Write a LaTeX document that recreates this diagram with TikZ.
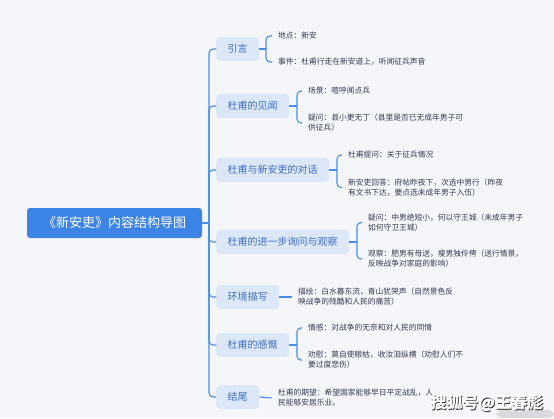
\documentclass[tikz,border=0pt]{standalone}
\usepackage{fontspec}
\setmainfont{Noto Sans CJK SC}
\usetikzlibrary{calc}
\definecolor{bg}{HTML}{F5F6FA}
\definecolor{rootc}{HTML}{3C84E6}
\definecolor{brfill}{HTML}{DCE7F8}
\definecolor{brtext}{HTML}{3F6EC2}
\definecolor{linec}{HTML}{4A8DE6}
\definecolor{leaft}{HTML}{353A50}
\definecolor{wmshadow}{HTML}{303030}
\definecolor{blob}{HTML}{D9D9DE}
\begin{document}
\begin{tikzpicture}[x=1pt,y=-1pt,
 conn/.style={draw=linec,line width=1.1pt,rounded corners=4pt},
 rootbox/.style={fill=rootc,text=white,rounded corners=3pt,minimum width=175pt,minimum height=30pt,font=\fontsize{13}{15}\selectfont,inner sep=0pt},
 branch/.style={fill=brfill,text=brtext,rounded corners=4pt,minimum height=24pt,inner xsep=11.5pt,inner ysep=0pt,font=\fontsize{10}{12}\selectfont,anchor=west},
 leaf/.style={text=leaft,font=\fontsize{7.75}{10}\selectfont,align=left,inner xsep=0pt,inner ysep=0pt,outer xsep=6pt,outer ysep=0pt,anchor=west},
 wmark/.style={font=\fontsize{16}{18}\selectfont\bfseries,inner sep=0pt}]
\useasboundingbox (0,0) rectangle (554,418);
\fill[bg] (0,0) rectangle (554,418);

\node[rootbox] (root) at (114.5,223) {《新安吏》内容结构导图};
\coordinate (trunk) at (209,223);

\node[branch] (b1) at (216,49) {引言};
\node[branch] (b2) at (216,106) {杜甫的见闻};
\node[branch] (b3) at (216,170) {杜甫与新安吏的对话};
\node[branch] (b4) at (216,242) {杜甫的进一步询问与观察};
\node[branch] (b5) at (216,297) {环境描写};
\node[branch] (b6) at (216,345) {杜甫的感慨};
\node[branch] (b7) at (216,397) {结尾};

\draw[conn] (root.east) -- (trunk);
\foreach \b in {b1,b2,b3,b4,b5,b6,b7} \draw[conn] (trunk) |- (\b.west);

% branch 1
\node[leaf] (l1a) at (272,36) {地点：新安};
\node[leaf] (l1b) at (272,62) {事件：杜甫行走在新安道上，听闻征兵声音};
\coordinate (k1) at (266,49);
\draw[conn] (b1.east) -- (k1);
\draw[conn] (k1) |- (l1a.west);
\draw[conn] (k1) |- (l1b.west);

% branch 2
\node[leaf] (l2a) at (302,91) {场景：喧呼闻点兵};
\node[leaf] (l2b) at (302,123) {疑问：县小更无丁（县里是否已无成年男子可\\供征兵）};
\coordinate (k2) at (297,106);
\draw[conn] (b2.east) -- (k2);
\draw[conn] (k2) |- (l2a.west);
\draw[conn] (k2) |- (l2b.west);

% branch 3
\node[leaf] (l3a) at (342,155) {杜甫提问：关于征兵情况};
\node[leaf] (l3b) at (342,187.5) {新安吏回答：府帖昨夜下，次选中男行（昨夜\\有文书下达，要点选未成年男子入伍）};
\coordinate (k3) at (337,170);
\draw[conn] (b3.east) -- (k3);
\draw[conn] (k3) |- (l3a.west);
\draw[conn] (k3) |- (l3b.west);

% branch 4
\node[leaf] (l4a) at (362,222.5) {疑问：中男绝短小，何以守王城（未成年男子\\如何守卫王城）};
\node[leaf] (l4b) at (362,259) {观察：肥男有母送，瘦男独伶俜（送行情景，\\反映战争对家庭的影响）};
\coordinate (k4) at (357,242);
\draw[conn] (b4.east) -- (k4);
\draw[conn] (k4) |- (l4a.west);
\draw[conn] (k4) |- (l4b.west);

% branch 5
\node[leaf] (l5) at (292,297) {描绘：白水暮东流，青山犹哭声（自然景色反\\映战争的残酷和人民的痛苦）};
\draw[conn] (b5.east) -- (l5.west);

% branch 6
\node[leaf] (l6a) at (302,328) {情感：对战争的无奈和对人民的同情};
\node[leaf] (l6b) at (302,360) {劝慰：莫自使眼枯，收汝泪纵横（劝慰人们不\\要过度悲伤）};
\coordinate (k6) at (297,345);
\draw[conn] (b6.east) -- (k6);
\draw[conn] (k6) |- (l6a.west);
\draw[conn] (k6) |- (l6b.west);

% branch 7
\node[leaf] (l7) at (272,398) {杜甫的期望：希望国家能够早日平定战乱，人\\民能够安居乐业。};
\draw[conn] (b7.east) -- (l7.west);

% watermark
\fill[blob,rounded corners=6pt] (497,410) rectangle (554,418);
\node[wmark,text=wmshadow] (wm0) at (487.8,403.8) {搜狐号@王春彪};
\node[wmark,text=white] (wm) at (487,403) {搜狐号@王春彪};
\end{tikzpicture}
\end{document}
